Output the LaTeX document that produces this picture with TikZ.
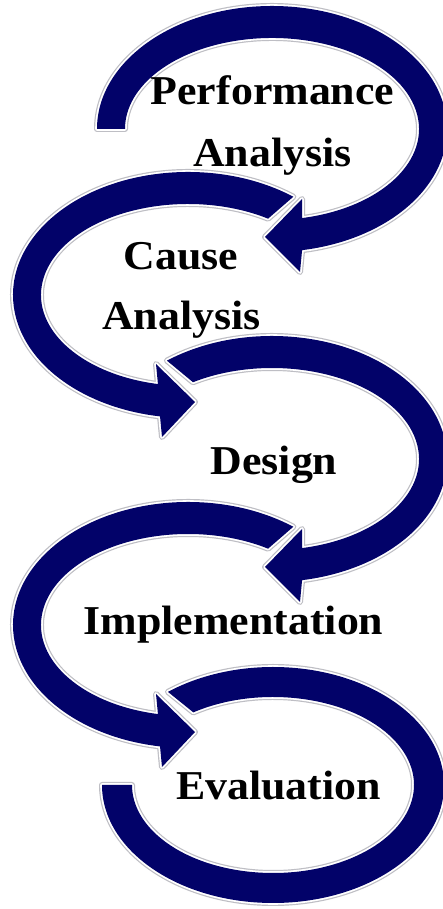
\documentclass[tikz,border=0pt]{standalone}
\usepackage{fontspec}
\setmainfont{Liberation Serif}
\usepackage{graphicx}
\definecolor{navyband}{RGB}{2,2,105}
\definecolor{halogray}{RGB}{190,190,196}
\tikzset{
  halo/.style={draw=halogray, line width=6pt, line join=round},
  gapwhite/.style={draw=white, line width=3.6pt, line join=round},
  bandfill/.style={fill=navyband},
  wordlbl/.style={font=\fontsize{41}{41}\selectfont\bfseries, anchor=base, inner sep=0pt, text=black}
}
\newcommand\bandA{([shift={(272,780)}]180:175 and 123) arc[start angle=180, end angle=-80.1, x radius=175, y radius=123]
  -- (300,637) -- (265,672) -- (302,710)
  -- ([shift={(272,780)}]-78.2:147 and 91) arc[start angle=-78.2, end angle=180, x radius=147, y radius=91] -- cycle}
\newcommand\bandB{([shift={(188,614)}]53:175 and 123) arc[start angle=53, end angle=260.8, x radius=175, y radius=123]
  -- (162,472) -- (195,507) -- (156,545)
  -- ([shift={(188,614)}]258.2:147 and 91) arc[start angle=258.2, end angle=57, x radius=147, y radius=91] -- cycle}
\newcommand\bandC{([shift={(272,450)}]126.9:175 and 123) arc[start angle=126.9, end angle=-80.1, x radius=175, y radius=123]
  -- (300,307) -- (265,342) -- (302,380)
  -- ([shift={(272,450)}]-78.2:147 and 91) arc[start angle=-78.2, end angle=122.5, x radius=147, y radius=91] -- cycle}
\newcommand\bandD{([shift={(188,284)}]53:175 and 123) arc[start angle=53, end angle=260.8, x radius=175, y radius=123]
  -- (162,142) -- (195,177) -- (156,215)
  -- ([shift={(188,284)}]258.2:147 and 91) arc[start angle=258.2, end angle=57, x radius=147, y radius=91] -- cycle}
\newcommand\bandE{([shift={(273,124)}]180:171 and 118) arc[start angle=180, end angle=487.9, x radius=171, y radius=118]
  -- ([shift={(273,124)}]484.4:141 and 88) arc[start angle=484.4, end angle=180, x radius=141, y radius=88] -- cycle}
\begin{document}
\begin{tikzpicture}[x=1pt, y=1pt]
  \useasboundingbox (0,0) rectangle (443,909);
  \fill[white] (0,0) rectangle (443,909);
  \clip (0,0) rectangle (443,909);
  % halo layer
  \path[halo] \bandA; \path[halo] \bandB; \path[halo] \bandC; \path[halo] \bandD; \path[halo] \bandE;
  \path[gapwhite] \bandA; \path[gapwhite] \bandB; \path[gapwhite] \bandC; \path[gapwhite] \bandD; \path[gapwhite] \bandE;
  \path[bandfill] \bandA; \path[bandfill] \bandB; \path[bandfill] \bandC; \path[bandfill] \bandD; \path[bandfill] \bandE;
  % labels
  \node[wordlbl] (perf) at (272.5,804) {\scalebox{1.07}[1]{Performance}};
  \node[wordlbl] (perfan) at (272.5,742) {\scalebox{1.07}[1]{Analysis}};
  \node[wordlbl] (cause) at (181,639) {\scalebox{1.07}[1]{Cause}};
  \node[wordlbl] (causean) at (181.5,579) {\scalebox{1.07}[1]{Analysis}};
  \node[wordlbl] (design) at (274,434) {\scalebox{1.07}[1]{Design}};
  \node[wordlbl] (impl) at (233.5,274) {\scalebox{1.07}[1]{Implementation}};
  \node[wordlbl] (eval) at (278.5,109) {\scalebox{1.07}[1]{Evaluation}};
\end{tikzpicture}
\end{document}
